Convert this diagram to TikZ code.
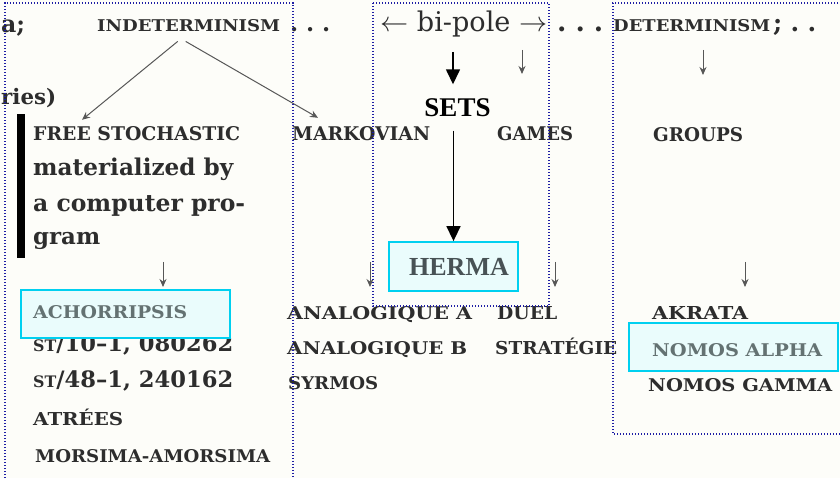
\documentclass[tikz,border=0pt]{standalone}
\usepackage{fontspec}
\setmainfont{DejaVu Serif}
\newfontfamily\timesf{Liberation Serif}
\usetikzlibrary{arrows.meta}
\definecolor{scanc}{RGB}{45,45,45}
\definecolor{dotblue}{RGB}{30,30,165}
\definecolor{cyanb}{RGB}{0,208,240}
\definecolor{cyanf}{RGB}{234,252,252}
\definecolor{boxtext}{RGB}{100,114,114}
\definecolor{hermatext}{RGB}{72,82,85}
\definecolor{paper}{RGB}{253,253,249}
\newcommand\fitt[3]{\resizebox{#1pt}{#2pt}{#3}}
\newcommand\fitw[2]{\resizebox{#1pt}{!}{#2}}
\begin{document}
\begin{tikzpicture}[x=1pt,y=-1pt,
  sc/.style={inner sep=0pt, anchor=base west, text=scanc, font=\bfseries\fontsize{12}{14}\selectfont},
  lc/.style={inner sep=0pt, anchor=base west, text=scanc, font=\bfseries\fontsize{20}{24}\selectfont},
  frame/.style={draw=dotblue, line width=1.4pt, dash pattern=on 1.4pt off 1.6pt},
  hbox/.style={draw=cyanb, line width=1.8pt, fill=cyanf, inner sep=0pt},
  scanarrow/.style={draw=scanc!80, line width=1pt, -{Stealth[length=8pt,width=7pt]}},
  bigarrow/.style={draw=black, line width=1.5pt, -{Triangle[length=15pt,width=14pt]}},
]
\fill[paper] (0,0) rectangle (840,478);
\useasboundingbox (0,0) rectangle (840,478);

% scanned text, top line
\node[lc] (semia) at (1,33) {\fitw{24}{a;}};
\node[sc] (indet) at (97,32) {\fitt{183}{12}{INDETERMINISM}};
\node[lc] (dots1) at (290,32) {\fitw{40}{.\,\,.\,\,.}};
\node[lc, font=\mdseries\fontsize{20}{24}\selectfont] (bipole) at (380,32) {\fitw{167}{$\leftarrow$ bi-pole $\rightarrow$}};
\node[lc] (dots2) at (557,32) {\fitw{46}{.\,\,.\,\,.}};
\node[sc] (determ) at (613,32) {\fitt{157}{12}{DETERMINISM}};
\node[lc] (dots3) at (773,32) {\fitw{43}{;\,\,.\,\,.}};
\node[lc] (ries) at (1,105) {\fitw{55}{ries)}};

% second row
\node[sc] (free) at (33,141) {\fitt{207}{14}{FREE STOCHASTIC}};
\node[sc] (markov) at (292,141) {\fitt{138}{14}{MARKOVIAN}};
\node[sc] (games) at (497,141) {\fitt{76}{14}{GAMES}};
\node[sc] (groups) at (653,142) {\fitt{90}{14}{GROUPS}};
\node[lc] (mat1) at (33,176) {\fitw{200}{materialized by}};
\node[lc] (mat2) at (33,212) {\fitw{212}{a computer pro-}};
\node[lc] (mat3) at (33,244) {\fitw{67}{gram}};

% works
\node[lc] (st10) at (33,351) {\fitw{200}{{\fontsize{14}{14}\selectfont ST}/10–1, 080262}};
\node[lc] (st48) at (33,387) {\fitw{200}{{\fontsize{14}{14}\selectfont ST}/48–1, 240162}};
\node[sc] (atrees) at (33,425) {\fitt{90}{16.5}{ATRÉES}};
\node[sc] (morsima) at (35,462) {\fitt{235}{13}{MORSIMA-AMORSIMA}};
\node[sc] (anaA) at (287,319) {\fitt{185}{13}{ANALOGIQUE A}};
\node[sc] (duel) at (497,319) {\fitt{60}{13}{DUEL}};
\node[sc] (anaB) at (287,354) {\fitt{180}{13}{ANALOGIQUE B}};
\node[sc] (strat) at (495,354) {\fitt{122}{16.5}{STRATÉGIE}};
\node[sc] (syrmos) at (288,389) {\fitt{90}{13}{SYRMOS}};
\node[sc] (akrata) at (652,319) {\fitt{96}{13}{AKRATA}};
\node[sc] (nomosG) at (648,391) {\fitt{184}{13}{NOMOS GAMMA}};

% scanned arrows
\draw[scanarrow] ([xshift=-11pt,yshift=-9pt]indet.south) -- ([xshift=49pt,yshift=7pt]free.north west);
\draw[scanarrow] ([xshift=-3pt,yshift=-9pt]indet.south) -- ([xshift=26pt,yshift=9pt]markov.north west);
\coordinate (ga1) at (522,50); \coordinate (ga2) at (522,74);
\coordinate (gr1) at (703,50); \coordinate (gr2) at (703,75);
\draw[scanarrow] (ga1) -- (ga2);
\draw[scanarrow] (gr1) -- (gr2);
\coordinate (w1a) at (163,262); \coordinate (w1b) at (163,287);
\coordinate (w2a) at (370,262); \coordinate (w2b) at (370,287);
\coordinate (w3a) at (555,262); \coordinate (w3b) at (555,287);
\coordinate (w4a) at (745,262); \coordinate (w4b) at (745,287);
\draw[scanarrow] (w1a) -- (w1b);
\draw[scanarrow] (w2a) -- (w2b);
\draw[scanarrow] (w3a) -- (w3b);
\draw[scanarrow] (w4a) -- (w4b);

% dotted frames
\draw[frame] (5,490) -- (5,3) -- (293,3) -- (293,490);
\draw[frame] (373,3) rectangle (549,306);
\draw[frame] (850,3) -- (613,3) -- (613,434) -- (850,434);

% highlighted boxes
\node[hbox, minimum width=209pt, minimum height=48pt] (achbox) at (125.5,314) {};
\node[sc, text=boxtext] (ach) at (33,318) {\fitt{154}{13}{ACHORRIPSIS}};
\node[hbox, minimum width=209pt, minimum height=48pt] (nomosbox) at (733.5,347) {};
\node[sc, text=boxtext] (nomosA) at (652,356) {\fitt{170}{13}{NOMOS ALPHA}};
\node[hbox, minimum width=129pt, minimum height=49pt, text=hermatext,
  font=\timesf\bfseries\fontsize{26}{28}\selectfont] (herma) at (453.5,266.5) {\hspace*{11pt}HERMA};

% SETS and its arrows
\node[inner sep=0pt, minimum height=46pt, font=\timesf\bfseries\fontsize{27}{29}\selectfont] (sets) at (457.5,107.5) {SETS};
\coordinate (setsin) at (453,52);
\draw[bigarrow] (setsin) -- (setsin |- sets.north);
\draw[bigarrow] (sets.south -| herma.north) -- (herma.north);

% black bar
\fill[black] (17,114) rectangle (25,258);
\end{tikzpicture}
\end{document}
